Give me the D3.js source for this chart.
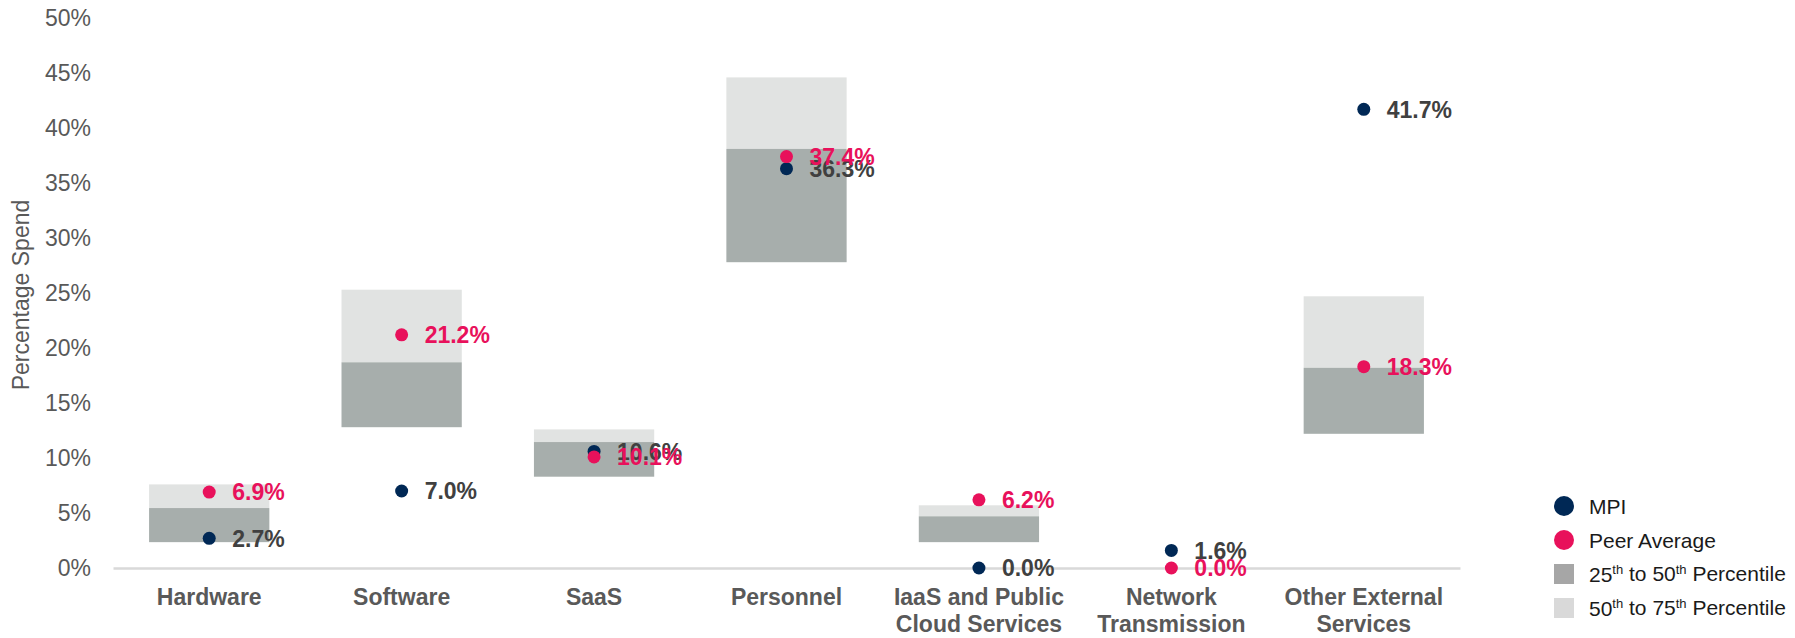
<!DOCTYPE html>
<html>
<head>
<meta charset="utf-8">
<script src="https://cdn.jsdelivr.net/npm/d3@7"></script>
<style>
  body { margin: 0; background: #fff; }
  svg { display: block; font-family: "Liberation Sans", Arial, sans-serif; }
</style>
</head>
<body>
<div id="chart"></div>
<script>
// Spend share by category (values in %)
var categories = ["Hardware", "Software", "SaaS", "Personnel", "IaaS and Public\nCloud Services", "Network\nTransmission", "Other External\nServices"];
var mpi  = [2.7, 7.0, 10.6, 36.3, 0.0, 1.6, 41.7];
var peer = [6.9, 21.2, 10.1, 37.4, 6.2, 0.0, 18.3];
var p25  = [2.35, 12.8, 8.3, 27.8, 2.35, 0, 12.2];
var p50  = [5.45, 18.7, 11.45, 38.1, 4.7, 0, 18.2];
var p75  = [7.6, 25.3, 12.6, 44.6, 5.7, 0, 24.7];
var yTicks = [0, 5, 10, 15, 20, 25, 30, 35, 40, 45, 50];

var width = 1795, height = 638;
var margin = {top: 18, left: 113, right: 335, bottom: 70};

var svg = d3.select("#chart").append("svg")
  .attr("width", width)
  .attr("height", height);

var x = d3.scaleBand()
  .domain(categories)
  .range([margin.left, width - margin.right])
  .paddingInner(0.375)
  .paddingOuter(0.1875);

var y = d3.scaleLinear()
  .domain([0, 50])
  .range([height - margin.bottom, margin.top]);

function cx(i) { return x(categories[i]) + x.bandwidth() / 2; }

// y axis, labels only
var yAxis = svg.append("g")
  .attr("transform", "translate(" + margin.left + ",0)")
  .call(d3.axisLeft(y).tickValues(yTicks).tickSize(0).tickPadding(22)
    .tickFormat(function(d) { return d + "%"; }));
yAxis.select(".domain").remove();
yAxis.selectAll("text")
  .style("font-family", "Liberation Sans, Arial, sans-serif")
  .style("font-size", "23px")
  .attr("fill", "#595959");

svg.append("text")
  .attr("transform", "translate(29," + ((margin.top + height - margin.bottom) / 2 + 2) + ") rotate(-90)")
  .attr("text-anchor", "middle")
  .style("font-size", "23px")
  .attr("fill", "#595959")
  .text("Percentage Spend");

// percentile boxes
var idx = d3.range(categories.length);
svg.append("g").selectAll("rect")
  .data(idx.filter(function(i) { return p75[i] > p50[i]; }))
  .join("rect")
  .attr("x", function(i) { return x(categories[i]); })
  .attr("width", x.bandwidth())
  .attr("y", function(i) { return y(p75[i]); })
  .attr("height", function(i) { return y(p50[i]) - y(p75[i]); })
  .attr("fill", "#e1e3e2");

svg.append("g").selectAll("rect")
  .data(idx.filter(function(i) { return p50[i] > p25[i]; }))
  .join("rect")
  .attr("x", function(i) { return x(categories[i]); })
  .attr("width", x.bandwidth())
  .attr("y", function(i) { return y(p50[i]); })
  .attr("height", function(i) { return y(p25[i]) - y(p50[i]); })
  .attr("fill", "#a7aeac");

// x axis line + category labels
var xAxis = svg.append("g")
  .attr("transform", "translate(0," + y(0) + ")")
  .call(d3.axisBottom(x).tickSize(0).tickSizeOuter(0).tickFormat(""));
xAxis.select(".domain").attr("stroke", "#d9d9d9").attr("stroke-width", 2.5);
xAxis.selectAll(".tick text").remove();

svg.append("g").selectAll("text")
  .data(idx)
  .join("text")
  .attr("text-anchor", "middle")
  .style("font-size", "23px")
  .style("font-weight", "bold")
  .attr("fill", "#595959")
  .each(function(i) {
    var lines = categories[i].split("\n");
    var t = d3.select(this);
    lines.forEach(function(l, k) {
      t.append("tspan").attr("x", cx(i)).attr("y", y(0) + 37 + k * 27).text(l);
    });
  });

// MPI points
var mpiG = svg.append("g");
mpiG.selectAll("circle")
  .data(idx).join("circle")
  .attr("cx", cx)
  .attr("cy", function(i) { return y(mpi[i]); })
  .attr("r", 6.5)
  .attr("fill", "#002855");
mpiG.selectAll("text")
  .data(idx).join("text")
  .attr("x", function(i) { return cx(i) + 23; })
  .attr("y", function(i) { return y(mpi[i]); })
  .attr("dy", "0.36em")
  .style("font-size", "23px")
  .style("font-weight", "bold")
  .attr("fill", "#404040")
  .text(function(i) { return mpi[i].toFixed(1) + "%"; });

// Peer average points
var peerG = svg.append("g");
peerG.selectAll("circle")
  .data(idx).join("circle")
  .attr("cx", cx)
  .attr("cy", function(i) { return y(peer[i]); })
  .attr("r", 6.5)
  .attr("fill", "#e8115b");
peerG.selectAll("text")
  .data(idx).join("text")
  .attr("x", function(i) { return cx(i) + 23; })
  .attr("y", function(i) { return y(peer[i]); })
  .attr("dy", "0.36em")
  .style("font-size", "23px")
  .style("font-weight", "bold")
  .attr("fill", "#e8115b")
  .text(function(i) { return peer[i].toFixed(1) + "%"; });

// legend
var legendItems = [
  {type: "circle", color: "#002855", parts: [["MPI"]]},
  {type: "circle", color: "#e8115b", parts: [["Peer Average"]]},
  {type: "rect", color: "#a6a6a6", parts: [["25"], ["th", 1], [" to 50"], ["th", 1], [" Percentile"]]},
  {type: "rect", color: "#d9d9d9", parts: [["50"], ["th", 1], [" to 75"], ["th", 1], [" Percentile"]]}
];
var legend = svg.append("g").attr("transform", "translate(1564,506)");
var li = legend.selectAll("g").data(legendItems).join("g")
  .attr("transform", function(d, k) { return "translate(0," + k * 34 + ")"; });
li.filter(function(d) { return d.type === "circle"; }).append("circle")
  .attr("r", 10).attr("fill", function(d) { return d.color; });
li.filter(function(d) { return d.type === "rect"; }).append("rect")
  .attr("x", -10).attr("y", -10).attr("width", 20).attr("height", 20)
  .attr("fill", function(d) { return d.color; });
li.append("text")
  .attr("x", 25)
  .attr("dy", "0.36em")
  .style("font-size", "21px")
  .attr("fill", "#1a1a1a")
  .each(function(d) {
    var t = d3.select(this);
    d.parts.forEach(function(p) {
      var s = t.append("tspan").text(p[0]);
      if (p[1]) s.style("font-size", "13px").attr("dy", "-0.6em");
      else s.attr("dy", t.selectAll("tspan").size() > 1 && d.parts[d.parts.indexOf(p) - 1][1] ? "0.36em" : null);
    });
  });
</script>
</body>
</html>
